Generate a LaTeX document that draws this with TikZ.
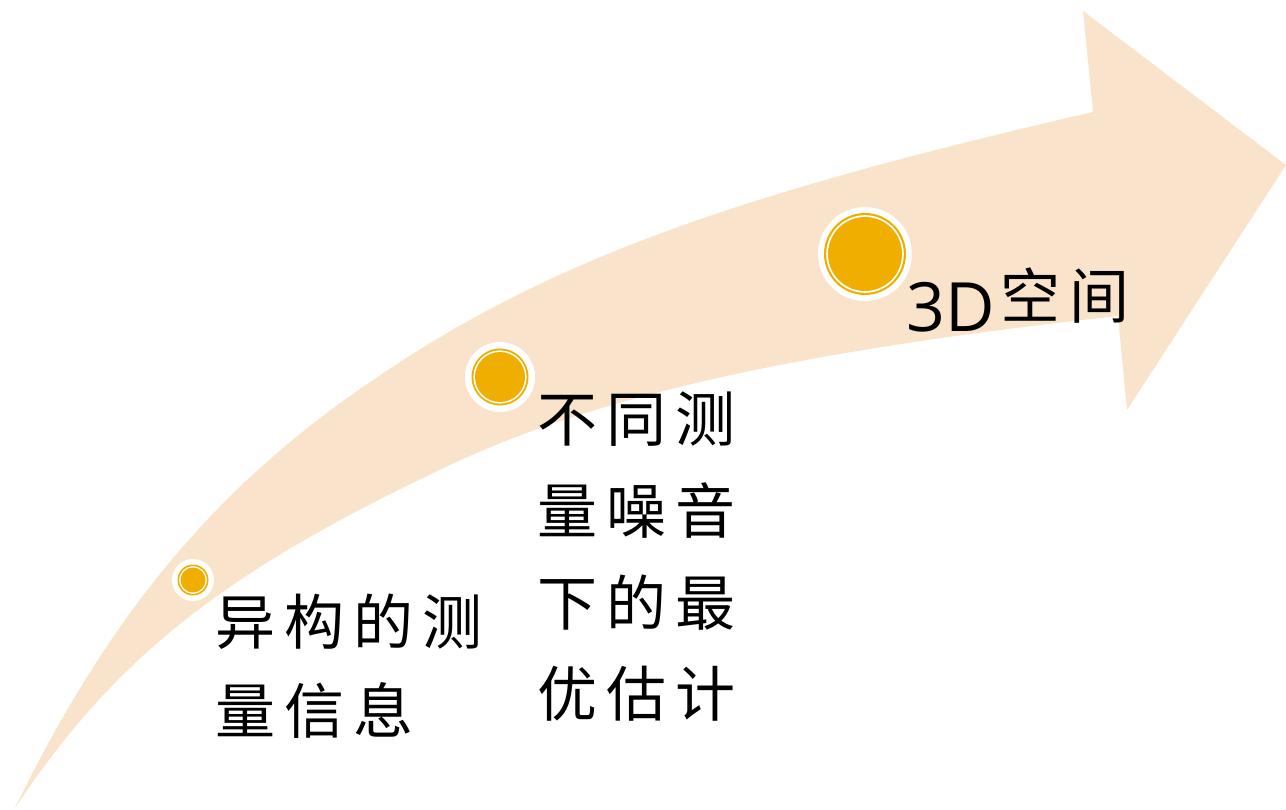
\documentclass[tikz,border=0pt]{standalone}
\usepackage{fontspec}
\newfontfamily\cjk[LetterSpace=15]{Noto Sans CJK SC}
\newfontfamily\latin{Open Sans}
\definecolor{band}{HTML}{F9E3CA}
\definecolor{gold}{HTML}{F0AE00}
\tikzset{
  lbl/.style={anchor=base west, inner sep=0pt, font=\cjk\fontsize{60pt}{60pt}\selectfont},
}
\begin{document}
\begin{tikzpicture}[x=1pt,y=-1pt]
\useasboundingbox (0,0) rectangle (1286,810);
% arrow band
\fill[band] (15,808) .. controls (109,615) and (216,486) .. (373,380)
  .. controls (543,264) and (723,197) .. (1093,112)
  -- (1083,11) -- (1286,165) -- (1127,410) -- (1118,316)
  .. controls (797,351) and (597,396) .. (450,465)
  .. controls (225,571) and (116,656) .. (15,808) -- cycle;
% markers
\coordinate (c1) at (193,580);
\coordinate (c2) at (500,377);
\coordinate (c3) at (865,254);
\fill[white] (c1) circle (21pt);
\fill[gold] (c1) circle (15.5pt);
\fill[white] (c1) circle (13.8pt);
\fill[gold] (c1) circle (12.5pt);
\fill[white] (c2) circle (35pt);
\fill[gold] (c2) circle (28.5pt);
\fill[white] (c2) circle (26.6pt);
\fill[gold] (c2) circle (25pt);
\fill[white] (c3) circle (47pt);
\fill[gold] (c3) circle (41pt);
\fill[white] (c3) circle (38.8pt);
\fill[gold] (c3) circle (37pt);
% labels
\node[lbl] (t1a) at (215,644) {异构的测};
\node[lbl] (t1b) at (215,733) {量信息};
\node[lbl] (t2a) at (537,441) {不同测};
\node[lbl] (t2b) at (537,533) {量噪音};
\node[lbl] (t2c) at (537,625) {下的最};
\node[lbl] (t2d) at (537,716) {优估计};
\node[lbl] (t3) at (906,332) {{\latin\fontsize{68pt}{68pt}\selectfont 3D}\hspace{6pt}\raisebox{13pt}{空间}};
\end{tikzpicture}
\end{document}
